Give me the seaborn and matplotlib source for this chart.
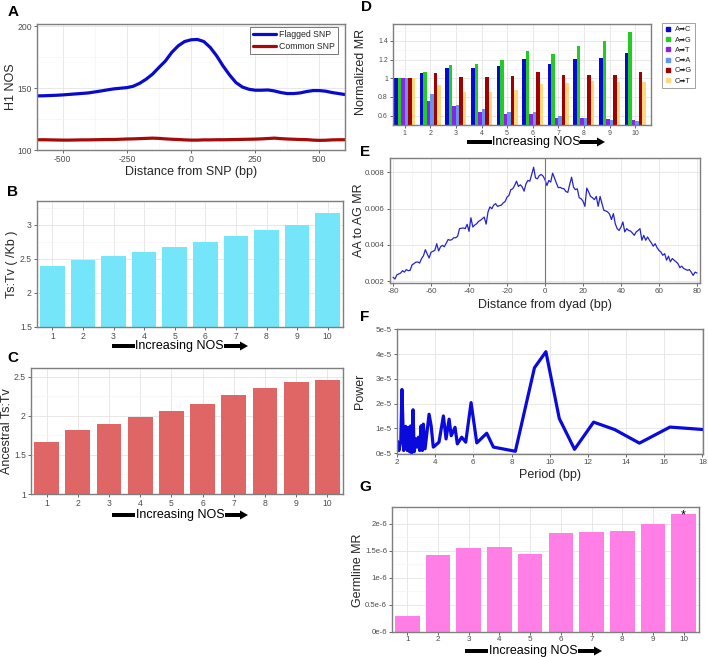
import numpy as np
import pandas as pd
import matplotlib
matplotlib.use("Agg")
import matplotlib.pyplot as plt
import seaborn as sns
from matplotlib.patches import FancyArrow, Rectangle
from matplotlib.lines import Line2D
from matplotlib.ticker import MultipleLocator, FixedLocator

# ---------------- data ----------------
nos_levels = ["1", "2", "3", "4", "5", "6", "7", "8", "9", "10"]

# Panel A: H1 NOS vs distance from SNP
a_dist = np.arange(-600, 601, 25)
a_flagged = [143.8, 143.9, 144.1, 144.3, 144.6, 145.0, 145.4, 145.8, 146.2, 147.0, 147.8, 148.7, 149.5,
             150.0, 150.5, 151.6, 154.0, 157.3, 161.4, 166.8, 172.0, 179.0, 184.3, 187.8, 189.2,
             189.5, 187.8, 183.0, 176.2, 168.0, 160.8, 154.6, 151.0, 149.2, 148.4, 148.4, 148.6,
             147.8, 146.5, 145.7, 145.7, 146.2, 147.3, 148.1, 148.1, 147.6, 146.5, 145.7, 144.9]
a_common = [108.3, 108.3, 108.2, 108.1, 108.0, 108.0, 108.1, 108.2, 108.2, 108.3, 108.4, 108.5, 108.5,
            108.7, 108.9, 109.0, 109.2, 109.4, 109.6, 109.4, 109.0, 108.7, 108.5, 108.2, 108.0,
            108.0, 108.2, 108.2, 108.3, 108.3, 108.4, 108.5, 108.6, 108.7, 108.8, 109.0, 109.3,
            109.6, 109.2, 108.9, 108.7, 108.5, 108.4, 108.0, 107.8, 107.9, 108.2, 108.3, 108.3]

# Panel B: Ts:Tv
b_tstv = [2.39, 2.49, 2.54, 2.60, 2.67, 2.75, 2.83, 2.92, 3.00, 3.18]
# Panel C: Ancestral Ts:Tv
c_anc = [1.665, 1.82, 1.89, 1.98, 2.055, 2.15, 2.27, 2.35, 2.43, 2.46]

# Panel D: normalized MR per mutation type
d_types = ["A\u27a1C", "A\u27a1G", "A\u27a1T", "C\u27a1A", "C\u27a1G", "C\u27a1T"]
d_AC = [1.0, 1.06, 1.114, 1.11, 1.136, 1.21, 1.154, 1.207, 1.218, 1.27]
d_AG = [1.0, 1.07, 1.143, 1.15, 1.19, 1.286, 1.26, 1.346, 1.40, 1.49]
d_AT = [1.0, 0.76, 0.707, 0.64, 0.618, 0.62, 0.57, 0.575, 0.564, 0.557]
d_CA = [1.0, 0.836, 0.718, 0.67, 0.643, 0.643, 0.596, 0.58, 0.553, 0.54]
d_CG = [1.0, 1.054, 1.01, 1.014, 1.02, 1.064, 1.03, 1.036, 1.03, 1.064]
d_CT = [1.0, 0.93, 0.857, 0.857, 0.875, 0.94, 0.946, 0.97, 0.96, 0.957]

# Panel E: AA to AG MR vs distance from dyad
e_dist = np.arange(-80, 81)
e_mr = [0.00222, 0.00212, 0.00235, 0.0024, 0.00245, 0.00258, 0.0025, 0.00264, 0.00258, 0.0026,
        0.0029, 0.00297, 0.00305, 0.00306, 0.003, 0.00325, 0.0034, 0.00374, 0.0035, 0.00328,
        0.0036, 0.00365, 0.0037, 0.00407, 0.00367, 0.0039, 0.00398, 0.0039, 0.0041, 0.0043,
        0.00426, 0.0043, 0.0044, 0.0044, 0.00448, 0.0049, 0.00492, 0.00494, 0.0049, 0.00514,
        0.00475, 0.0055, 0.00499, 0.0051, 0.00517, 0.0053, 0.00536, 0.00545, 0.00554, 0.00515,
        0.00582, 0.0061, 0.006, 0.0062, 0.00628, 0.00613, 0.00617, 0.0062, 0.00632, 0.0064,
        0.00664, 0.00673, 0.00705, 0.0071, 0.00728, 0.00752, 0.00723, 0.00732, 0.0072, 0.00697,
        0.00738, 0.00756, 0.00752, 0.00789, 0.00829, 0.0077, 0.00765, 0.00783, 0.00789, 0.0078,
        0.0076, 0.00728, 0.00756, 0.00747, 0.00796, 0.0077, 0.00741, 0.00716, 0.00718, 0.00712,
        0.0071, 0.00695, 0.0069, 0.00734, 0.00774, 0.0072, 0.00705, 0.0071, 0.00661, 0.00655,
        0.00642, 0.00613, 0.00714, 0.00692, 0.00668, 0.00661, 0.0065, 0.00668, 0.00613, 0.00668,
        0.00628, 0.00591, 0.00588, 0.00582, 0.0057, 0.0054, 0.00573, 0.00517, 0.0049, 0.0048,
        0.00499, 0.00527, 0.00472, 0.0049, 0.0048, 0.00477, 0.00466, 0.00453, 0.00472, 0.0048,
        0.0049, 0.00426, 0.00453, 0.00426, 0.00444, 0.00426, 0.00411, 0.00393, 0.00407, 0.00385,
        0.0037, 0.00361, 0.00343, 0.00352, 0.00316, 0.00338, 0.00307, 0.00325, 0.00316, 0.00307,
        0.00297, 0.00275, 0.00283, 0.0027, 0.00265, 0.0026, 0.00264, 0.0025, 0.00232, 0.0025,
        0.00245]

# Panel F: power spectrum
f_period = [2.03, 2.1, 2.2, 2.26, 2.35, 2.45, 2.54, 2.6, 2.66, 2.72, 2.77, 2.84, 2.9, 2.98, 3.05,
            3.12, 3.19, 3.26, 3.33, 3.38, 3.47, 3.68, 3.79, 3.9, 4.0, 4.2, 4.43, 4.57, 4.73, 4.84,
            5.04, 5.16, 5.39, 5.6, 5.88, 6.18, 6.7, 7.05, 8.2, 9.2, 9.8, 10.5, 11.3, 12.3, 13.4,
            14.7, 16.3, 18.4]
f_power_e5 = [0.47, 0.1, 0.5, 2.57, 0.1, 1.08, 0.1, 1.04, 0.05, 1.1, 0.0, 1.75, 0.05, 0.57, 0.24,
              0.64, 0.1, 1.1, 0.1, 1.17, 0.17, 1.57, 1.1, 0.24, 0.3, 0.44, 1.5, 0.57, 1.37, 0.7,
              1.04, 0.37, 0.64, 0.44, 2.04, 0.41, 0.8, 0.24, 0.07, 3.45, 4.1, 1.4, 0.15, 1.25, 0.95,
              0.4, 1.05, 0.93]

# Panel G: germline MR
g_mr_e6 = [0.29, 1.415, 1.545, 1.575, 1.45, 1.834, 1.846, 1.858, 1.988, 2.18]

# ---------------- figure ----------------
sns.set_theme(style="white")
plt.rcParams['font.family'] = ['Liberation Sans', 'DejaVu Sans']
plt.rcParams['axes.unicode_minus'] = False

W, H = 708, 657
fig = plt.figure(figsize=(W / 100, H / 100), dpi=100)
fig.patch.set_facecolor('white')

TICKC = '#4d4d4d'


def add_ax(l, t, r, b):
    return fig.add_axes([l / W, 1 - b / H, (r - l) / W, (b - t) / H])


def style(ax, size=6):
    ax.set_facecolor('white')
    for s in ax.spines.values():
        s.set_visible(True)
        s.set_color('#7f7f7f')
        s.set_linewidth(1.0)
    ax.grid(True, which='major', color='#e4e4e4', lw=0.6)
    ax.grid(True, which='minor', color='#f1f1f1', lw=0.4)
    ax.set_axisbelow(True)
    ax.tick_params(axis='both', which='major', labelsize=size, labelcolor=TICKC, color=TICKC,
                   length=2.5, width=0.6, pad=1.2, bottom=True, left=True)
    ax.tick_params(axis='both', which='minor', length=0)
    ax.set_xlabel('')
    ax.set_ylabel('')


def ftext(x, y, s, **kw):
    kw.setdefault('ha', 'center')
    kw.setdefault('va', 'center')
    fig.text(x / W, 1 - y / H, s, **kw)


def panel_letter(x, y, s):
    ftext(x, y, s, fontsize=11, fontweight='bold', color='black')


def nos_arrow(x0, x1, x2, x3, y):
    yy = (H - y) / 100
    fig.add_artist(Rectangle((x0 / 100, yy - 0.02), (x1 - x0) / 100, 0.04,
                             transform=fig.dpi_scale_trans, color='black', lw=0))
    ftext((x1 + x2) / 2, y, "Increasing NOS", fontsize=9, color='black')
    fig.add_artist(FancyArrow(x2 / 100, yy, (x3 - x2) / 100, 0, width=0.04, head_width=0.09,
                              head_length=0.08, length_includes_head=True,
                              transform=fig.dpi_scale_trans, color='black', lw=0))


# ---------- Panel A ----------
axA = add_ax(37, 24, 345, 150)
dfA = pd.DataFrame({
    "dist": np.concatenate([a_dist, a_dist]),
    "nos": a_flagged + a_common,
    "type": ["Flagged SNP"] * len(a_dist) + ["Common SNP"] * len(a_dist),
})
sns.lineplot(data=dfA, x="dist", y="nos", hue="type", estimator=None,
             palette={"Flagged SNP": "#0a0acc", "Common SNP": "#a50a0a"}, lw=2.3, ax=axA)
axA.set_xlim(-600, 600)
axA.set_ylim(100, 202)
axA.xaxis.set_major_locator(FixedLocator([-500, -250, 0, 250, 500]))
axA.xaxis.set_minor_locator(FixedLocator([-375, -125, 125, 375]))
axA.yaxis.set_major_locator(FixedLocator([100, 150, 200]))
axA.yaxis.set_minor_locator(FixedLocator([125, 175]))
style(axA, 6.2)
h, l = axA.get_legend_handles_labels()
leg = axA.legend(h, l, loc='upper right', bbox_to_anchor=(0.978, 0.975), borderaxespad=0,
                 fontsize=6.3, frameon=True, fancybox=False, handlelength=2.6, handletextpad=0.4,
                 borderpad=0.35, labelspacing=0.35)
leg.get_frame().set_edgecolor('#555555')
leg.get_frame().set_linewidth(0.7)
panel_letter(13, 12, "A")
ftext(11, 87, "H1 NOS", fontsize=9, rotation=90)
ftext(191, 172, "Distance from SNP (bp)", fontsize=9)


def bar_panel(ax, vals, color, ylim, yticks, ylabels, yminor):
    df = pd.DataFrame({"nos": nos_levels, "v": vals})
    sns.barplot(data=df, x="nos", y="v", order=nos_levels, color=color, saturation=1,
                width=0.8, ax=ax, edgecolor='none')
    ax.set_xlim(-0.5, 9.5)
    ax.set_ylim(*ylim)
    ax.yaxis.set_major_locator(FixedLocator(yticks))
    ax.set_yticklabels(ylabels)
    ax.yaxis.set_minor_locator(FixedLocator(yminor))
    style(ax, 6.2)


# ---------- Panel B ----------
axB = add_ax(37, 201, 343, 327)
bar_panel(axB, b_tstv, '#75e6fa', (1.5, 3.35), [1.5, 2, 2.5, 3], ['1.5', '2', '2.5', '3'],
          [1.75, 2.25, 2.75, 3.25])
panel_letter(12, 192, "B")
ftext(12, 264, "Ts:Tv ( /Kb )", fontsize=9, rotation=90)
nos_arrow(112, 135, 224, 248, 346)

# ---------- Panel C ----------
axC = add_ax(31, 368, 343, 494)
bar_panel(axC, c_anc, '#e06666', (1.0, 2.61), [1, 1.5, 2, 2.5], ['1', '1.5', '2', '2.5'],
          [1.25, 1.75, 2.25])
panel_letter(13, 358, "C")
ftext(7, 431, "Ancestral Ts:Tv", fontsize=9, rotation=90)
nos_arrow(112, 135, 225, 248, 515)

# ---------- Panel D ----------
axD = add_ax(393, 24, 651, 125)
d_cols = ["#0a0acc", "#22cc22", "#8a22e8", "#6495ed", "#a00000", "#ffd77f"]
dfD = pd.DataFrame({
    "nos": nos_levels * 6,
    "mr": d_AC + d_AG + d_AT + d_CA + d_CG + d_CT,
    "type": [t for t in d_types for _ in nos_levels],
})
sns.barplot(data=dfD, x="nos", y="mr", hue="type", order=nos_levels, hue_order=d_types,
            palette=dict(zip(d_types, d_cols)), saturation=1, width=0.82, gap=0,
            ax=axD, edgecolor='none', legend=False)
axD.set_xlim(-0.46, 9.62)
axD.set_ylim(0.5, 1.58)
axD.yaxis.set_major_locator(FixedLocator([0.6, 0.8, 1.0, 1.2, 1.4]))
axD.set_yticklabels(['0.6', '0.8', '1', '1.2', '1.4'])
axD.yaxis.set_minor_locator(FixedLocator([0.7, 0.9, 1.1, 1.3, 1.5]))
style(axD, 5)
handles = [Line2D([], [], marker='s', ls='', color=c, markersize=3.5) for c in d_cols]
legD = axD.legend(handles, d_types, loc='upper left', bbox_to_anchor=(662 / W, 1 - 23 / H),
                  bbox_transform=fig.transFigure, borderaxespad=0, fontsize=5.3, frameon=True,
                  fancybox=False, handlelength=0.8, handletextpad=0.5, borderpad=0.45,
                  labelspacing=0.42)
legD.get_frame().set_edgecolor('#777777')
legD.get_frame().set_linewidth(0.6)
panel_letter(367, 7, "D")
ftext(361, 72, "Normalized MR", fontsize=9, rotation=90)
nos_arrow(467, 492, 580, 605, 142)

# ---------- Panel E ----------
axE = add_ax(390, 158, 700, 283)
dfE = pd.DataFrame({"dist": e_dist, "mr": e_mr})
sns.lineplot(data=dfE, x="dist", y="mr", color='#2424cc', lw=0.9, estimator=None, ax=axE)
axE.axvline(0, color='#777777', lw=0.8)
axE.set_xlim(-81.6, 81.6)
axE.set_ylim(0.0019, 0.0088)
axE.xaxis.set_major_locator(MultipleLocator(20))
axE.xaxis.set_minor_locator(MultipleLocator(10))
axE.yaxis.set_major_locator(FixedLocator([0.002, 0.004, 0.006, 0.008]))
axE.set_yticklabels(['0.002', '0.004', '0.006', '0.008'])
style(axE, 5.8)
axE.tick_params(axis='x', which='minor', length=1.8, width=0.6, color=TICKC)
axE.grid(False, which='minor', axis='y')
panel_letter(365, 152, "E")
ftext(359, 220, "AA to AG MR", fontsize=9, rotation=90)
ftext(545, 305, "Distance from dyad (bp)", fontsize=9)

# ---------- Panel F ----------
axF = add_ax(397, 329, 703, 454)
dfF = pd.DataFrame({"period": f_period, "power": np.array(f_power_e5) * 1e-5})
sns.lineplot(data=dfF, x="period", y="power", color='#0a0add', lw=2.3, estimator=None, ax=axF)
axF.set_xlim(2, 18.03)
axF.set_ylim(-0.04e-5, 5.02e-5)
axF.xaxis.set_major_locator(FixedLocator([2, 4, 6, 8, 10, 12, 14, 16, 18]))
axF.yaxis.set_major_locator(FixedLocator([0, 1e-5, 2e-5, 3e-5, 4e-5, 5e-5]))
axF.set_yticklabels(['0e-5', '1e-5', '2e-5', '3e-5', '4e-5', '5e-5'])
style(axF, 5.8)
panel_letter(365, 317, "F")
ftext(360, 391, "Power", fontsize=9, rotation=90)
ftext(550, 475, "Period (bp)", fontsize=9)

# ---------- Panel G ----------
axG = add_ax(392, 507, 699, 632)
bar_panel(axG, list(np.array(g_mr_e6) * 1e-6), '#ff7fe6', (0, 2.31e-6),
          [0, 0.5e-6, 1e-6, 1.5e-6, 2e-6], ['0e-6', '0.5e-6', '1e-6', '1.5e-6', '2e-6'],
          [0.25e-6, 0.75e-6, 1.25e-6, 1.75e-6, 2.25e-6])
axG.tick_params(axis='y', labelsize=5.6)
axG.tick_params(axis='x', labelsize=5.9, pad=0.8, length=2)
axG.text(9, g_mr_e6[9] * 1e-6 - 0.09e-6, "*", ha='center', va='baseline', fontsize=9,
         color='black', zorder=5)
panel_letter(365, 487, "G")
ftext(358, 570, "Germline MR", fontsize=9, rotation=90)
nos_arrow(465, 488, 578, 602, 651)

fig.savefig("out.png", dpi=100)
